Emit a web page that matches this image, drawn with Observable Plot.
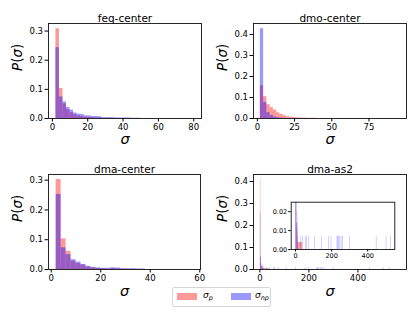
<!DOCTYPE html>
<html><head><meta charset="utf-8">
<script src="https://cdn.jsdelivr.net/npm/d3@7"></script>
<script src="https://cdn.jsdelivr.net/npm/@observablehq/plot@0.6"></script>
<style>
body{margin:0;background:#fff;}
#fig{position:relative;width:415px;height:311px;font-family:"DejaVu Sans",sans-serif;overflow:hidden;background:#fff;}
#fig svg{position:absolute;}
.legend{position:absolute;left:172px;top:287px;width:97px;height:18px;border:1px solid #d6d6d6;border-radius:2px;background:#fff;font-family:"DejaVu Sans",sans-serif;}
.legend .sw{position:absolute;top:5px;width:20px;height:7px;}
.legend .lb{position:absolute;top:2px;font-size:9px;font-style:italic;color:#000;}
.legend .lb sub{font-size:6.5px;vertical-align:-2px;}
</style></head><body><div id="fig"></div>
<script>
// ---- data (density histograms, P(sigma)) ----
const titles = ["feq-center", "dmo-center", "dma-center", "dma-as2"];
const seriesNames = ["σp", "σnp"];

// feq-center: bins start 2, width 2
const feqStart = 2, feqWidth = 2;
const feqP  = [0.308, 0.103, 0.050, 0.030, 0.020, 0.013, 0.009, 0.007, 0.005, 0.004, 0.003, 0.002, 0.002, 0.001, 0.001, 0.001];
const feqNP = [0.243, 0.074, 0.057, 0.038, 0.029, 0.019, 0.015, 0.014, 0.009, 0.009, 0.007, 0.007, 0.006, 0.003, 0.003, 0.003, 0.003, 0.002, 0.002, 0.002, 0.002, 0.001, 0.001, 0.001];

// dmo-center: bins start 2, width 2.2
const dmoStart = 2, dmoWidth = 2.2;
const dmoP  = [0.155, 0.104, 0.066, 0.052, 0.040, 0.027, 0.019, 0.013, 0.008, 0.006, 0.004, 0.003, 0.002, 0.002, 0.001, 0.001, 0.001];
const dmoNP = [0.427, 0.076, 0.028, 0.015, 0.007, 0.004, 0.002, 0.001];

// dma-center: bins start 2, width 2
const dmaStart = 2, dmaWidth = 2;
const dmaP  = [0.302, 0.103, 0.061, 0.028, 0.020, 0.015, 0.008, 0.006, 0.004, 0.003, 0.002, 0.003, 0.002, 0.001];
const dmaNP = [0.252, 0.073, 0.050, 0.033, 0.025, 0.017, 0.011, 0.007, 0.005, 0.004, 0.004, 0.006, 0.005, 0.003, 0.003, 0.003, 0.002, 0.002];

// dma-as2
const as2PEdges = [2, 4, 6, 8, 10, 13, 26, 39];
const as2P      = [0.410, 0.055, 0.012, 0.014, 0.010, 0.0037, 0.0037];
const as2NPStart = 2, as2NPWidth = 2;
const as2NPHead = [0.258, 0.060, 0.028, 0.014, 0.020, 0.007, 0.014];
const as2NPSingles = [28, 40, 56, 61, 75, 108, 145, 185, 198, 231, 236, 241, 247, 254, 262, 299, 448, 503, 528];
const as2NPSingleValue = 0.007;
const as2NPSingleWidth = 2.5;

// ---- helpers ----
const RED = "red", BLUE = "blue", OP = 0.4;
function regBins(start, width, values) {
  return values.map((v, i) => ({x1: start + i * width, x2: start + (i + 1) * width, v}));
}
function edgeBins(edges, values) {
  return values.map((v, i) => ({x1: edges[i], x2: edges[i + 1], v}));
}
const as2Red = edgeBins(as2PEdges, as2P);
const as2Blue = regBins(as2NPStart, as2NPWidth, as2NPHead)
  .concat(as2NPSingles.map(x => ({x1: x, x2: x + as2NPSingleWidth, v: as2NPSingleValue})));

const fig = document.getElementById("fig");

function ylabFix(svg) {
  svg.querySelectorAll("g.ylab text").forEach(t => {
    t.textContent = "";
    const parts = [["P", "italic"], ["(", "normal"], ["σ", "italic"], [")", "normal"]];
    for (const [s, st] of parts) {
      const ts = document.createElementNS("http://www.w3.org/2000/svg", "tspan");
      ts.textContent = s; ts.setAttribute("font-style", st);
      t.appendChild(ts);
    }
  });
}

function panel(o) {
  const svg = Plot.plot({
    width: o.width, height: o.height,
    marginTop: o.mt, marginBottom: o.mb, marginLeft: o.ml, marginRight: o.mr,
    style: {background: "transparent", fontFamily: "DejaVu Sans", color: "#000",
            position: "absolute", left: o.left + "px", top: o.top + "px", overflow: "visible"},
    x: {domain: o.xd},
    y: {domain: o.yd},
    marks: [
      Plot.rect(o.red, {x1: "x1", x2: "x2", y1: 0, y2: "v", fill: RED, fillOpacity: OP, clip: true}),
      Plot.rect(o.blue, {x1: "x1", x2: "x2", y1: 0, y2: "v", fill: BLUE, fillOpacity: OP, clip: true}),
      Plot.frame({stroke: "#111", strokeWidth: 0.9}),
      Plot.axisX({ticks: o.xt, tickSize: 3.5, tickPadding: 1.5, fontSize: 8.5, label: null}),
      Plot.axisY({ticks: o.yt, tickFormat: d3.format(".1f"), tickSize: 3.5, tickPadding: 2, fontSize: 8.5, label: null}),
      Plot.text([o.title], {text: d => d, frameAnchor: "top", dy: -9, fontSize: 10.5}),
      Plot.text(["σ"], {text: d => d, frameAnchor: "bottom", dy: o.xlDy, fontSize: 14.5, fontStyle: "italic"}),
      Plot.text(["P(σ)"], {text: d => d, frameAnchor: "left", dx: -31, rotate: -90, fontSize: 13.5, className: "ylab"})
    ]
  });
  ylabFix(svg);
  fig.appendChild(svg);
}

panel({left: 0, top: 0, width: 207, height: 150, mt: 23, mb: 32, ml: 48, mr: 6,
  xd: [-2.2, 84.4], yd: [0, 0.326], xt: [0, 20, 40, 60, 80], yt: [0, 0.1, 0.2, 0.3],
  title: titles[0], red: regBins(feqStart, feqWidth, feqP), blue: regBins(feqStart, feqWidth, feqNP), xlDy: 25});

panel({left: 205, top: 0, width: 208, height: 150, mt: 23, mb: 32, ml: 48, mr: 7,
  xd: [-2.6, 100.2], yd: [0, 0.452], xt: [0, 25, 50, 75], yt: [0, 0.1, 0.2, 0.3, 0.4],
  title: titles[1], red: regBins(dmoStart, dmoWidth, dmoP), blue: regBins(dmoStart, dmoWidth, dmoNP), xlDy: 25});

panel({left: 0, top: 150, width: 207, height: 150, mt: 24, mb: 31, ml: 48, mr: 7,
  xd: [-1.1, 60.3], yd: [0, 0.319], xt: [0, 20, 40, 60], yt: [0, 0.1, 0.2, 0.3],
  title: titles[2], red: regBins(dmaStart, dmaWidth, dmaP), blue: regBins(dmaStart, dmaWidth, dmaNP), xlDy: 26});

panel({left: 205, top: 150, width: 208, height: 150, mt: 24, mb: 31, ml: 48, mr: 7,
  xd: [-26, 598], yd: [0, 0.432], xt: [0, 200, 400], yt: [0, 0.1, 0.2, 0.3, 0.4],
  title: titles[3], red: as2Red, blue: as2Blue, xlDy: 26});

// inset
const inset = Plot.plot({
  width: 140, height: 70, marginTop: 11.7, marginBottom: 11, marginLeft: 30.7, marginRight: 5.7,
  style: {background: "transparent", fontFamily: "DejaVu Sans", color: "#000",
          position: "absolute", left: "260px", top: "190px", overflow: "visible"},
  x: {domain: [-24, 550]},
  y: {domain: [0, 0.025]},
  marks: [
    Plot.frame({fill: "white"}),
    Plot.rect(as2Red, {x1: "x1", x2: "x2", y1: 0, y2: "v", fill: RED, fillOpacity: OP, clip: true}),
    Plot.rect(as2Blue, {x1: "x1", x2: "x2", y1: 0, y2: "v", fill: BLUE, fillOpacity: OP, clip: true}),
    Plot.frame({stroke: "#111", strokeWidth: 0.9}),
    Plot.axisX({ticks: [0, 200, 400], tickSize: 2.5, tickPadding: 1.5, fontSize: 6.5, label: null}),
    Plot.axisY({ticks: [0, 0.01, 0.02], tickFormat: d3.format(".2f"), tickSize: 2.5, tickPadding: 1.5, fontSize: 6.5, label: null})
  ]
});
fig.appendChild(inset);

// legend
const leg = document.createElement("div");
leg.className = "legend";
leg.innerHTML =
  `<div class="sw" style="left:4px;background:rgba(255,0,0,${OP})"></div>` +
  `<div class="lb" style="left:30px">σ<sub>p</sub></div>` +
  `<div class="sw" style="left:58px;background:rgba(0,0,255,${OP})"></div>` +
  `<div class="lb" style="left:82px">σ<sub>np</sub></div>`;
fig.appendChild(leg);
</script></body></html>
